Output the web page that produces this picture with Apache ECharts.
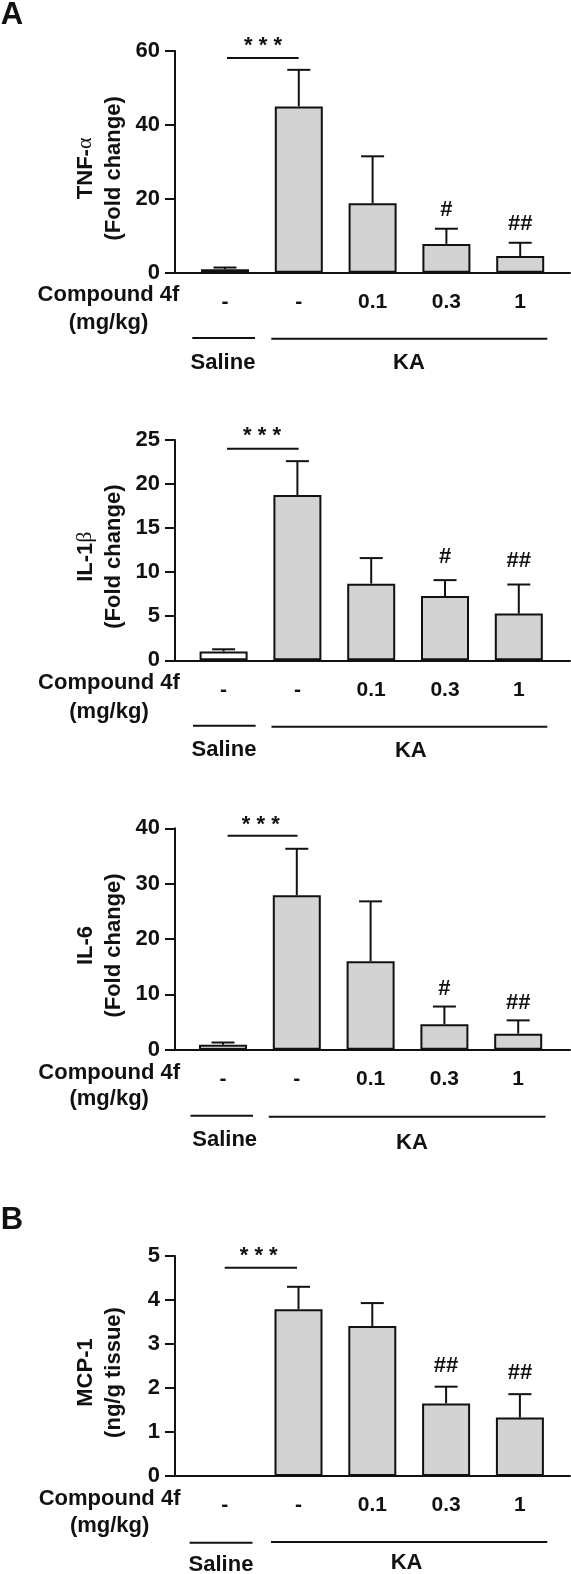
<!DOCTYPE html>
<html lang="en">
	<head>
		<meta charset="UTF-8" />
		<title>Cytokine levels</title>
		<script src="https://cdn.jsdelivr.net/npm/echarts@6/dist/echarts.min.js"></script>
		<style>
			html, body { margin: 0; padding: 0; background: #fff; }
			#chart { width: 571px; height: 1574px; }
		</style>
	</head>
	<body>
		<div id="chart"></div>
		<script>
			const doseLabels = ["-", "-", "0.1", "0.3", "1"];

			// bar heights and upper error whisker
			const tnfMeans = [0.9, 45, 18.8, 7.8, 4.5];
			const tnfTops = [1.4, 54.9, 31.5, 11.9, 8.1];
			const il1Means = [1, 18.75, 8.7, 7.3, 5.3];
			const il1Tops = [1.25, 22.6, 11.6, 9.1, 8.6];
			const il6Means = [0.9, 27.9, 16, 4.6, 2.9];
			const il6Tops = [1.3, 36.3, 26.8, 7.8, 5.3];
			const mcpMeans = [0, 3.79, 3.41, 1.65, 1.33];
			const mcpTops = [0, 4.3, 3.93, 2.03, 1.86];

			const tnfMarks = ["", "", "", "#", "##"];
			const il1Marks = ["", "", "", "#", "##"];
			const il6Marks = ["", "", "", "#", "##"];
			const mcpMarks = ["", "", "", "##", "##"];

			const FONT = '"Liberation Sans", Arial, sans-serif';
			const INK = "#111";
			const FILL = "#d3d3d3";
			const STEP = 73.8;
			const AXIS_LEFT = 175;
			const AXIS_RIGHT = 570;

			const panels = [
				{
					means: tnfMeans, tops: tnfTops, marks: tnfMarks, max: 60, interval: 20,
					top: 51, zero: 272.7, first: 225, firstFill: "#fff", markGap: 18.5,
					nameTop: "{b|TNF-}{s|α}", nameBottom: "(Fold change)",
					compound: [108.5, 295, 322.7],
					saline: [192.3, 255, 338], ka: [271.3, 547.3, 338.7],
					salineText: [223, 363], kaText: [409, 363],
					sig: [227, 298.6, 58], stars: [263, 46],
				},
				{
					means: il1Means, tops: il1Tops, marks: il1Marks, max: 25, interval: 5,
					top: 440, zero: 660.3, first: 223.6, firstFill: "#fff", markGap: 23.3,
					nameTop: "{b|IL-1}{s|β}", nameBottom: "(Fold change)",
					compound: [109, 683.3, 711.7],
					saline: [193, 255.6, 725.7], ka: [271.5, 547.3, 726.7],
					salineText: [224, 750], kaText: [410.8, 751],
					sig: [227, 298.6, 448.7], stars: [262, 436],
				},
				{
					means: il6Means, tops: il6Tops, marks: il6Marks, max: 40, interval: 10,
					top: 828.3, zero: 1049.7, first: 223, firstFill: "#fff", markGap: 17.7,
					nameTop: "{b|IL-6}", nameBottom: "(Fold change)",
					compound: [109.2, 1073, 1099.3],
					saline: [190.5, 253, 1115.7], ka: [268.8, 545.5, 1116.7],
					salineText: [224.7, 1140], kaText: [411.9, 1143.3],
					sig: [227.6, 297.5, 835.7], stars: [260.8, 824.7],
				},
				{
					means: mcpMeans, tops: mcpTops, marks: mcpMarks, max: 5, interval: 1,
					top: 1256, zero: 1476, first: 224.7, firstFill: "#fff", markGap: 21.2,
					nameTop: "{b|MCP-1}", nameBottom: "(ng/g tissue)",
					compound: [109.6, 1498.7, 1526],
					saline: [189.6, 252.5, 1542.7], ka: [271, 547.3, 1542],
					salineText: [221, 1565], kaText: [406.6, 1563.3],
					sig: [224.7, 297, 1267.7], stars: [258.7, 1256.3],
				},
			];

			function label(text, x, y, size) {
				return {
					type: "text",
					style: {
						text: text, x: x, y: y, align: "center", verticalAlign: "middle",
						font: "bold " + size + "px " + FONT, fill: INK,
					},
				};
			}

			function rule(x1, x2, y) {
				return {
					type: "line",
					shape: { x1: x1, y1: y, x2: x2, y2: y },
					style: { stroke: INK, lineWidth: 2 },
				};
			}

			function whisker(gap) {
				return function (params, api) {
					const x = api.value(0);
					const top = api.coord([x, api.value(1)]);
					const base = api.coord([x, api.value(2)]);
					const children = [];
					if (api.value(1) > api.value(2)) {
						const line = { stroke: INK, lineWidth: 2 };
						children.push({ type: "line", shape: { x1: top[0], y1: base[1], x2: top[0], y2: top[1] }, style: line });
						children.push({ type: "line", shape: { x1: top[0] - 11.5, y1: top[1], x2: top[0] + 11.5, y2: top[1] }, style: line });
					}
					const mark = api.value(3);
					if (mark) {
						children.push({
							type: "text",
							style: {
								text: mark, x: top[0], y: top[1] - gap, align: "center", verticalAlign: "middle",
								font: "bold 22px " + FONT, fill: INK,
							},
						});
					}
					return { type: "group", children: children };
				};
			}

			const grid = [];
			const xAxis = [];
			const yAxis = [];
			const series = [];
			const graphic = [label("A", 12, 15, 31), label("B", 12, 1220, 31)];

			panels.forEach((p, i) => {
				grid.push({ left: AXIS_LEFT, width: AXIS_RIGHT - AXIS_LEFT, top: p.top, height: p.zero - p.top });
				xAxis.push({
					gridIndex: i,
					type: "value",
					min: 1 - (p.first - AXIS_LEFT) / STEP,
					max: 1 + (AXIS_RIGHT - p.first) / STEP,
					splitLine: { show: false },
					axisLine: { show: true, lineStyle: { color: INK, width: 2 } },
					axisTick: { show: false },
					axisLabel: {
						customValues: [1, 2, 3, 4, 5],
						formatter: (v) => doseLabels[v - 1],
						margin: 19,
						fontFamily: FONT, fontWeight: "bold", fontSize: 21, color: INK,
					},
				});
				yAxis.push({
					gridIndex: i,
					type: "value",
					min: 0,
					max: p.max,
					interval: p.interval,
					splitLine: { show: false },
					axisLine: { show: true, onZero: false, lineStyle: { color: INK, width: 2 } },
					axisTick: { show: true, length: 10, lineStyle: { color: INK, width: 2 } },
					axisLabel: { margin: 15, fontFamily: FONT, fontWeight: "bold", fontSize: 22, color: INK },
					name: p.nameTop + "\n{b|" + p.nameBottom + "}",
					nameLocation: "middle",
					nameRotate: 90,
					nameGap: 47,
					nameTextStyle: {
						padding: [0, 13, 0, 0],
						rich: {
							b: { fontFamily: FONT, fontWeight: "bold", fontSize: 22, lineHeight: 28, color: INK },
							s: { fontFamily: '"Liberation Serif", serif', fontSize: 22, lineHeight: 28, color: INK },
						},
					},
				});
				series.push({
					type: "custom",
					xAxisIndex: i,
					yAxisIndex: i,
					clip: false,
					z: 1,
					renderItem: whisker(p.markGap),
					encode: { x: 0, y: 1 },
					data: p.means.map((m, k) => [k + 1, p.tops[k], m, p.marks[k]]),
				});
				series.push({
					type: "bar",
					xAxisIndex: i,
					yAxisIndex: i,
					barWidth: 48,
					z: 2,
					silent: true,
					data: p.means.map((m, k) => ({
						value: [k + 1, m],
						itemStyle: { color: k === 0 ? p.firstFill : FILL, borderColor: INK, borderWidth: 2 },
					})),
				});

				graphic.push(label("Compound 4f", p.compound[0], p.compound[1], 22));
				graphic.push(label("(mg/kg)", p.compound[0], p.compound[2], 22));
				graphic.push(rule(p.saline[0], p.saline[1], p.saline[2]));
				graphic.push(rule(p.ka[0], p.ka[1], p.ka[2]));
				graphic.push(label("Saline", p.salineText[0], p.salineText[1], 22));
				graphic.push(label("KA", p.kaText[0], p.kaText[1], 22));
				graphic.push(rule(p.sig[0], p.sig[1], p.sig[2]));
				graphic.push(label("* * *", p.stars[0], p.stars[1], 22));
			});

			const myChart = echarts.init(document.getElementById("chart"), null, { renderer: "canvas" });
			myChart.setOption({
				animation: false,
				backgroundColor: "#fff",
				grid: grid,
				xAxis: xAxis,
				yAxis: yAxis,
				series: series,
				graphic: graphic,
			});
		</script>
	</body>
</html>
